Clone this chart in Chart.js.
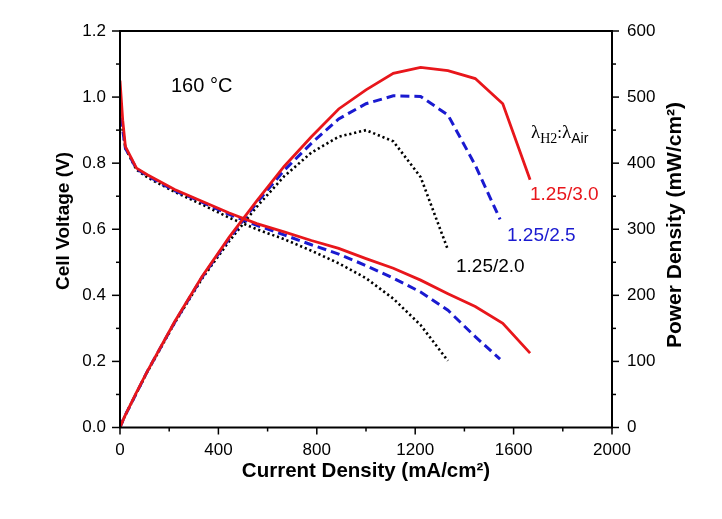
<!DOCTYPE html>
<html>
<head>
<meta charset="utf-8">
<script src="https://cdn.jsdelivr.net/npm/chart.js@4.4.1/dist/chart.umd.min.js"></script>
<style>
  html, body { margin: 0; padding: 0; background: #fff; }
  #wrap { width: 722px; height: 519px; }
</style>
</head>
<body>
<div id="wrap"><canvas id="mychart" width="722" height="519"></canvas></div>
<script>
// lambda H2 : lambda Air = 1.25 / 3.0
const currentA = [0, 11, 22, 67, 111, 222, 333, 444, 556, 667, 778, 889, 1000, 1111, 1222, 1333, 1444, 1556, 1667];
const voltageA = [1.05, 0.93, 0.85, 0.785, 0.765, 0.72, 0.685, 0.649, 0.617, 0.592, 0.566, 0.542, 0.511, 0.482, 0.446, 0.405, 0.366, 0.315, 0.225];
const powerA = [0, 10, 19, 53, 85, 160, 228, 288, 343, 395, 440, 482, 511, 536, 545, 540, 528, 490, 375];

// 1.25 / 2.5
const currentB = [0, 11, 22, 67, 111, 222, 333, 444, 556, 667, 778, 889, 1000, 1111, 1222, 1333, 1444, 1545];
const voltageB = [0.98, 0.9, 0.845, 0.783, 0.762, 0.717, 0.682, 0.645, 0.612, 0.583, 0.553, 0.525, 0.49, 0.452, 0.41, 0.355, 0.275, 0.207];
const powerB = [0, 10, 19, 52, 85, 159, 227, 286, 340, 389, 430, 467, 490, 502, 501, 473, 397, 315];

// 1.25 / 2.0
const currentC = [0, 11, 22, 67, 111, 222, 333, 444, 556, 667, 778, 889, 1000, 1111, 1222, 1333];
const voltageC = [0.98, 0.9, 0.845, 0.78, 0.757, 0.713, 0.675, 0.635, 0.6, 0.57, 0.535, 0.497, 0.452, 0.39, 0.31, 0.202];
const powerC = [0, 10, 19, 52, 84, 158, 225, 282, 334, 380, 416, 440, 450, 433, 379, 269];

const seriesLabels = ["1.25/3.0", "1.25/2.5", "1.25/2.0"];
const seriesColors = ["#e8161b", "#1a1ad0", "#000000"];

const xTicks = { min: 0, max: 2000, major: 400, minor: 200 };
const vTicks = { min: 0, max: 1.2, major: 0.2, minor: 0.1 };
const pTicks = { min: 0, max: 600, major: 100, minor: 50 };

const toXY = (xs, ys) => xs.map((x, i) => ({ x: x, y: ys[i] }));

const SANS = "'Liberation Sans', Arial, sans-serif";
const SERIF = "'Liberation Serif', 'Times New Roman', serif";

function richText(ctx, x, y, parts) {
  let cx = x;
  parts.forEach((p) => {
    ctx.font = p.font;
    ctx.fillText(p.text, cx, y + (p.dy || 0));
    cx += ctx.measureText(p.text).width;
  });
}

const decorations = {
  id: "decorations",
  afterDraw(chart) {
    const { ctx, chartArea: a, scales } = chart;
    ctx.save();
    ctx.strokeStyle = "#000";
    ctx.fillStyle = "#000";

    // frame
    ctx.lineWidth = 2;
    ctx.strokeRect(a.left, a.top, a.right - a.left, a.bottom - a.top);

    // tick marks
    ctx.lineWidth = 1.5;
    const tick = (x1, y1, x2, y2) => {
      ctx.beginPath();
      ctx.moveTo(x1, y1);
      ctx.lineTo(x2, y2);
      ctx.stroke();
    };
    const isMajor = (v, t) => Math.abs(v / t.major - Math.round(v / t.major)) < 1e-6;
    for (let i = 0; xTicks.min + i * xTicks.minor <= xTicks.max + 1e-9; i++) {
      const v = xTicks.min + i * xTicks.minor;
      const px = scales.x.getPixelForValue(v);
      tick(px, a.bottom, px, a.bottom + (isMajor(v, xTicks) ? 7 : 4));
    }
    for (let i = 0; vTicks.min + i * vTicks.minor <= vTicks.max + 1e-9; i++) {
      const v = vTicks.min + i * vTicks.minor;
      const py = scales.y.getPixelForValue(v);
      tick(a.left, py, a.left - (isMajor(v, vTicks) ? 8 : 4), py);
    }
    for (let i = 0; pTicks.min + i * pTicks.minor <= pTicks.max + 1e-9; i++) {
      const v = pTicks.min + i * pTicks.minor;
      const py = scales.y2.getPixelForValue(v);
      tick(a.right, py, a.right + (isMajor(v, pTicks) ? 7 : 4), py);
    }

    // axis titles
    ctx.textAlign = "center";
    ctx.textBaseline = "alphabetic";
    ctx.font = "bold 20.5px " + SANS;
    ctx.fillText("Current Density (mA/cm²)", 366, 477);

    ctx.save();
    ctx.translate(69, 221);
    ctx.rotate(-Math.PI / 2);
    ctx.font = "bold 19px " + SANS;
    ctx.fillText("Cell Voltage (V)", 0, 0);
    ctx.restore();

    ctx.save();
    ctx.translate(681, 225);
    ctx.rotate(-Math.PI / 2);
    ctx.font = "bold 21px " + SANS;
    ctx.fillText("Power Density (mW/cm²)", 0, 0);
    ctx.restore();

    // annotations
    ctx.textAlign = "left";
    ctx.font = "20px " + SANS;
    ctx.fillText("160 °C", 171, 92);

    richText(ctx, 531, 138, [
      { text: "λ", font: "19px " + SERIF },
      { text: "H2", font: "14px " + SERIF, dy: 5 },
      { text: ":", font: "17px " + SERIF },
      { text: "λ", font: "19px " + SERIF },
      { text: "Air", font: "14px " + SANS, dy: 5 }
    ]);

    ctx.font = "19px " + SANS;
    ctx.fillStyle = seriesColors[0];
    ctx.fillText(seriesLabels[0], 530, 200);
    ctx.fillStyle = seriesColors[1];
    ctx.fillText(seriesLabels[1], 507, 241);
    ctx.fillStyle = seriesColors[2];
    ctx.fillText(seriesLabels[2], 456, 272);
    ctx.restore();
  }
};

const styleFor = (i) => {
  if (i === 0) return { borderWidth: 2.8, borderDash: [] };
  if (i === 1) return { borderWidth: 3, borderDash: [9, 5] };
  return { borderWidth: 2.6, borderDash: [2.2, 2.8] };
};

const curves = [
  [currentA, voltageA, powerA],
  [currentB, voltageB, powerB],
  [currentC, voltageC, powerC]
];

const datasets = [];
curves.forEach((c, i) => {
  const st = styleFor(i);
  datasets.push({
    label: seriesLabels[i] + " voltage",
    data: toXY(c[0], c[1]),
    yAxisID: "y",
    borderColor: seriesColors[i],
    borderWidth: st.borderWidth,
    borderDash: st.borderDash,
    pointRadius: 0,
    tension: 0,
    fill: false
  });
  datasets.push({
    label: seriesLabels[i] + " power",
    data: toXY(c[0], c[2]),
    yAxisID: "y2",
    borderColor: seriesColors[i],
    borderWidth: st.borderWidth,
    borderDash: st.borderDash,
    pointRadius: 0,
    tension: 0,
    fill: false
  });
});

const tickFont = { family: SANS, size: 17 };

new Chart(document.getElementById("mychart"), {
  type: "line",
  data: { datasets: datasets },
  options: {
    responsive: false,
    animation: false,
    layout: { padding: { top: 31, left: 0, right: 0, bottom: 0 } },
    plugins: { legend: { display: false }, tooltip: { enabled: false } },
    scales: {
      x: {
        type: "linear",
        min: xTicks.min,
        max: xTicks.max,
        grid: { display: false },
        border: { display: false },
        ticks: {
          stepSize: xTicks.major,
          color: "#000",
          font: tickFont,
          padding: 5,
          maxRotation: 0,
          callback: (v) => String(v)
        },
        afterFit: (s) => { s.height = 91.5; }
      },
      y: {
        position: "left",
        min: vTicks.min,
        max: vTicks.max,
        grid: { display: false },
        border: { display: false },
        ticks: {
          stepSize: vTicks.major,
          color: "#000",
          font: tickFont,
          padding: 6,
          callback: (v) => v.toFixed(1)
        },
        afterFit: (s) => { s.width = 120; }
      },
      y2: {
        position: "right",
        min: pTicks.min,
        max: pTicks.max,
        grid: { display: false },
        border: { display: false },
        ticks: {
          stepSize: pTicks.major,
          color: "#000",
          font: tickFont,
          padding: 7,
          callback: (v) => String(v)
        },
        afterFit: (s) => { s.width = 110; }
      }
    }
  },
  plugins: [decorations]
});
</script>
</body>
</html>
